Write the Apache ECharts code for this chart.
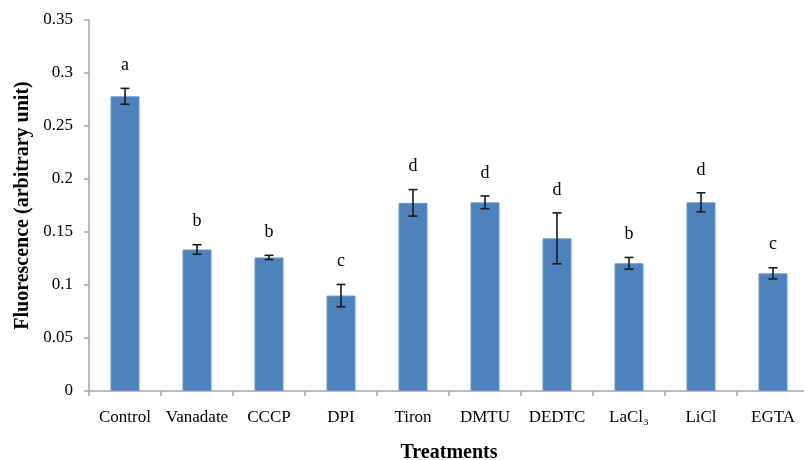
<!DOCTYPE html>
<html>
<head>
<meta charset="utf-8">
<script src="https://cdn.jsdelivr.net/npm/echarts@6/dist/echarts.min.js"></script>
<style>html,body{margin:0;padding:0;background:#fff;}#c{width:804px;height:460px;}</style>
</head>
<body>
<div id="c"></div>
<script>
var categories = ['Control', 'Vanadate', 'CCCP', 'DPI', 'Tiron', 'DMTU', 'DEDTC', 'LaCl₃', 'LiCl', 'EGTA'];
var means = [0.278, 0.1335, 0.126, 0.090, 0.1775, 0.178, 0.144, 0.1205, 0.178, 0.111];
var errors = [0.0075, 0.0045, 0.002, 0.0105, 0.0125, 0.006, 0.024, 0.0055, 0.009, 0.0053];
var letters = ['a', 'b', 'b', 'c', 'd', 'd', 'd', 'b', 'd', 'c'];
var yTicks = [0, 0.05, 0.1, 0.15, 0.2, 0.25, 0.3, 0.35];

var chart = echarts.init(document.getElementById('c'), null, {renderer: 'canvas'});
var font = '"Liberation Serif", "Times New Roman", serif';

var errData = categories.map(function (c, i) { return [i, means[i] - errors[i], means[i] + errors[i], letters[i]]; });

chart.setOption({
  animation: false,
  backgroundColor: '#ffffff',
  grid: {left: 89, top: 20, width: 720, height: 371, containLabel: false, outerBoundsMode: 'none'},
  xAxis: {
    type: 'category',
    data: categories,
    boundaryGap: true,
    name: 'Treatments',
    nameLocation: 'middle',
    nameGap: 52,
    nameTextStyle: {fontFamily: font, fontSize: 20, fontWeight: 'bold', color: '#000'},
    axisLine: {lineStyle: {color: '#a6a6a6', width: 1.5}},
    axisTick: {show: true, alignWithLabel: false, length: 5, lineStyle: {color: '#a6a6a6', width: 1.5}},
    axisLabel: {fontFamily: font, fontSize: 17, color: '#000', margin: 18, interval: 0}
  },
  yAxis: {
    type: 'value',
    min: 0,
    max: 0.35,
    interval: 0.05,
    name: 'Fluorescence (arbitrary unit)',
    nameLocation: 'middle',
    nameGap: 55,
    nameTextStyle: {fontFamily: font, fontSize: 20, fontWeight: 'bold', color: '#000'},
    axisLine: {show: true, lineStyle: {color: '#a6a6a6', width: 1.5}},
    axisTick: {show: true, length: 5, lineStyle: {color: '#a6a6a6', width: 1.5}},
    splitLine: {show: false},
    axisLabel: {
      fontFamily: font, fontSize: 17, color: '#000', margin: 16,
      formatter: function (v) {
        var best = yTicks.reduce(function (a, b) { return Math.abs(b - v) < Math.abs(a - v) ? b : a; });
        return String(best);
      }
    }
  },
  series: [
    {
      type: 'bar',
      data: means,
      barWidth: 29,
      itemStyle: {color: '#4f81bd', borderColor: '#6b96cc', borderWidth: 1}
    },
    {
      type: 'custom',
      data: errData,
      encode: {x: 0, y: [1, 2]},
      z: 10,
      renderItem: function (params, api) {
        var x = api.value(0);
        var lo = api.coord([x, api.value(1)]);
        var hi = api.coord([x, api.value(2)]);
        var cap = 4.5;
        var style = {stroke: '#1a1a1a', lineWidth: 1.6};
        return {
          type: 'group',
          children: [
            {type: 'line', shape: {x1: lo[0], y1: lo[1], x2: hi[0], y2: hi[1]}, style: style},
            {type: 'line', shape: {x1: lo[0] - cap, y1: lo[1], x2: lo[0] + cap, y2: lo[1]}, style: style},
            {type: 'line', shape: {x1: hi[0] - cap, y1: hi[1], x2: hi[0] + cap, y2: hi[1]}, style: style},
            {type: 'text', x: hi[0], y: hi[1] - 23, style: {text: api.value(3), fill: '#000', font: '18px ' + font, align: 'center', verticalAlign: 'middle'}}
          ]
        };
      }
    }
  ]
});
</script>
</body>
</html>
